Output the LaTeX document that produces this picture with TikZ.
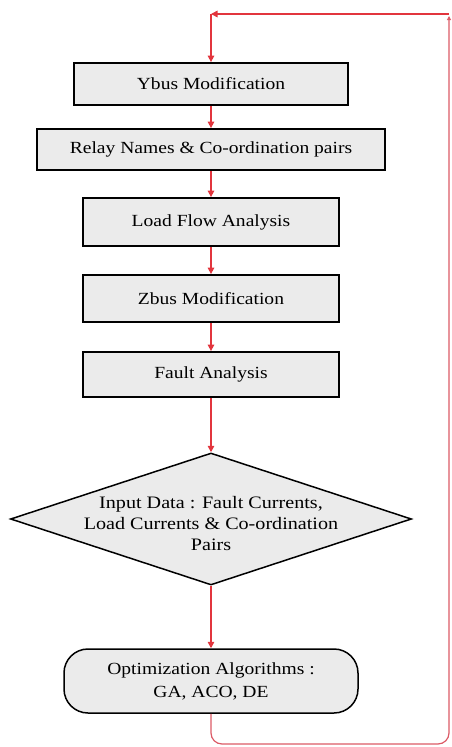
\documentclass[tikz,border=0pt]{standalone}
\usepackage{fontspec}
\setmainfont[FakeStretch=1.15]{Liberation Serif}
\usetikzlibrary{arrows.meta,shapes.geometric}
\definecolor{boxfill}{HTML}{EBEBEB}
\definecolor{arrred}{HTML}{E2353D}
\definecolor{loopred}{HTML}{DC5A66}
\tikzset{
  x=1pt, y=-1pt,
  procbox/.style={draw=black, line width=1.8pt, fill=boxfill, inner sep=0pt, font=\fontsize{17}{21}\selectfont},
  diabox/.style={draw=black, line width=1.5pt, fill=boxfill, diamond, inner sep=0pt},
  termbox/.style={draw=black, line width=1.5pt, fill=boxfill, rounded corners=24pt, inner sep=0pt, align=center, font=\fontsize{17}{23}\selectfont},
  flow/.style={draw=arrred, line width=1.5pt, -{Triangle[length=6.5pt,width=6.5pt]}},
  loopline/.style={draw=loopred, line width=1.2pt},
}
\begin{document}
\begin{tikzpicture}
\useasboundingbox (0,0) rectangle (451,747);
\node[procbox, minimum width=274pt, minimum height=42pt] (ybus) at (211,84) {Ybus Modification};
\node[procbox, minimum width=348pt, minimum height=41pt] (relay) at (211,149.5) {Relay Names \& Co-ordination pairs};
\node[procbox, minimum width=256pt, minimum height=48pt] (lf) at (211,222) {Load Flow Analysis};
\node[procbox, minimum width=256pt, minimum height=47pt] (zbus) at (211,298.5) {Zbus Modification};
\node[procbox, minimum width=256pt, minimum height=45pt] (fault) at (211,374.5) {Fault Analysis};
\node[diabox, minimum width=401pt, minimum height=132pt] (input) at (211,519) {};
\node[align=center, inner sep=0pt, font=\fontsize{17.5}{21}\selectfont] (inputtext) at (211,524) {Input Data : Fault Currents,\\Load Currents \& Co-ordination\\Pairs};
\node[termbox, minimum width=294pt, minimum height=64pt] (opt) at (211,681) {Optimization Algorithms :\\GA, ACO, DE};
\coordinate (br) at (449,744);
\coordinate (tr) at (449,16);
\coordinate (trc) at (449,14);
\coordinate (tl) at (211,14);
\draw[flow] (ybus) -- (relay);
\draw[flow] (relay) -- (lf);
\draw[flow] (lf) -- (zbus);
\draw[flow] (zbus) -- (fault);
\draw[flow] (fault) -- (input);
\draw[flow] (input) -- (opt);
\draw[loopline, rounded corners=11pt, -{Triangle[length=4pt,width=4pt]}] (opt.south) |- (br) -- (tr);
\draw[flow] (trc) -- (tl);
\draw[flow] (tl) -- (ybus);
\end{tikzpicture}
\end{document}
